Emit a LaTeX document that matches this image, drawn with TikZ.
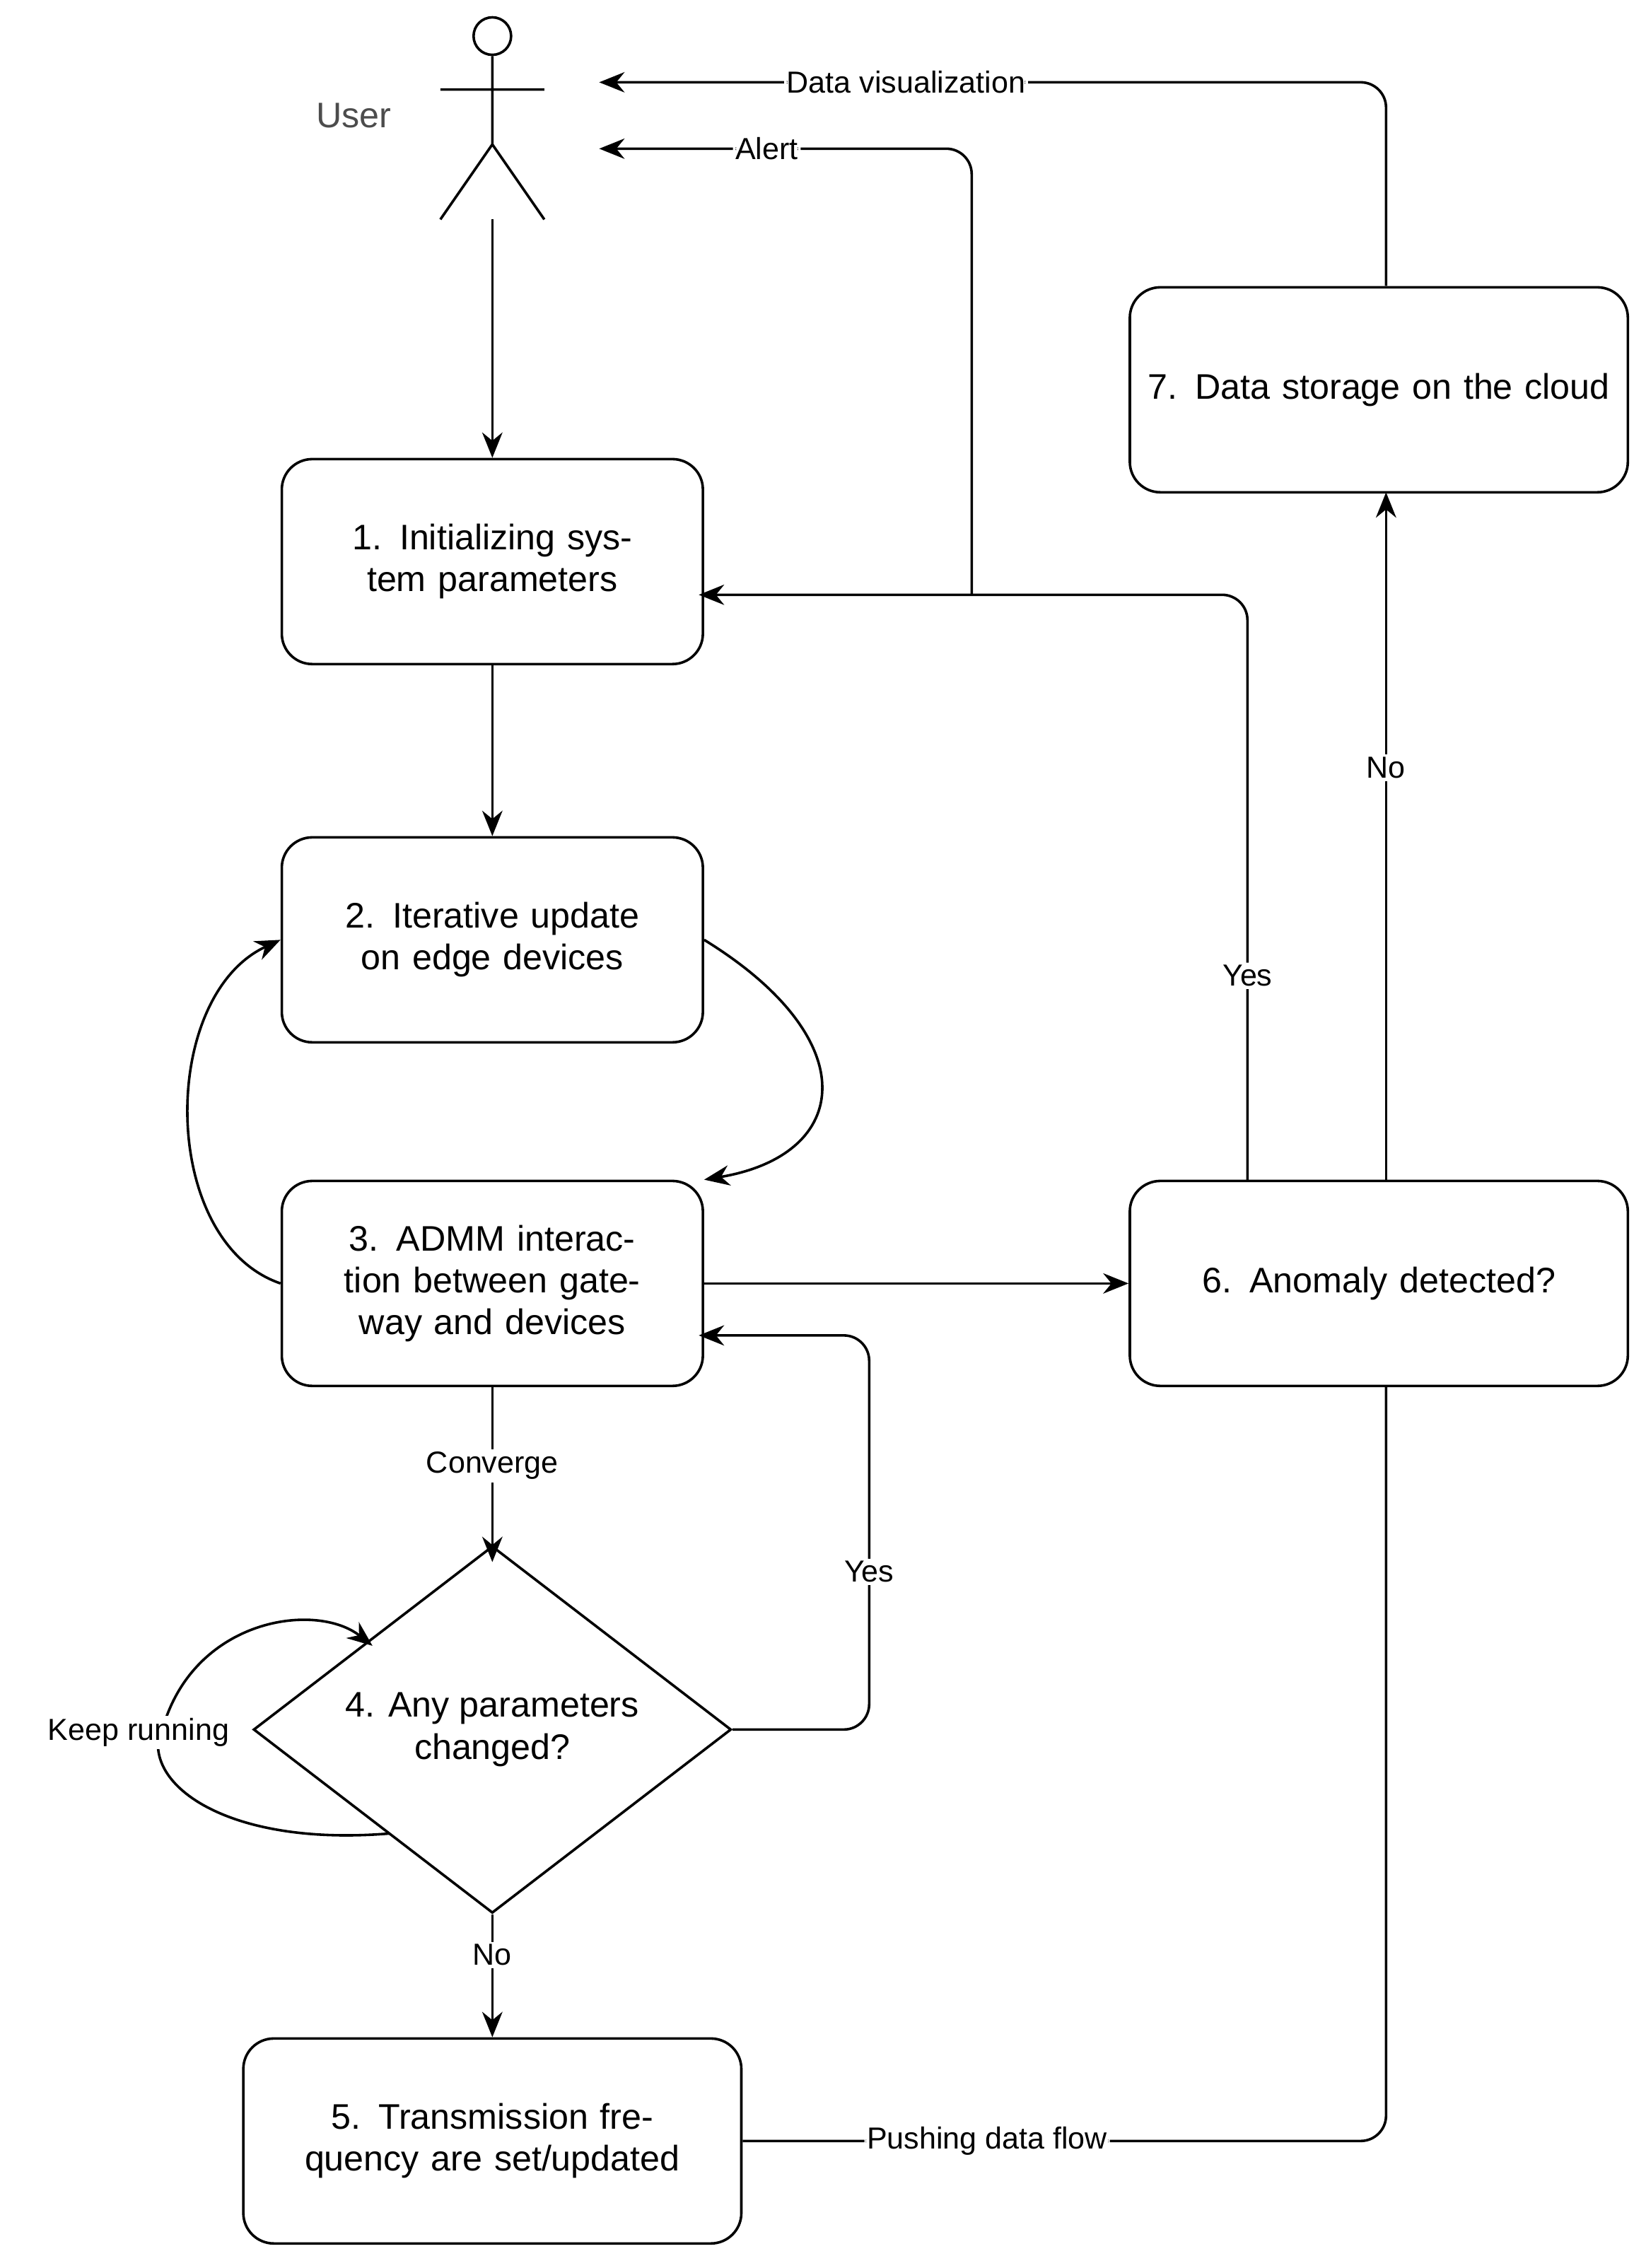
\documentclass[tikz,border=0pt]{standalone}
\usepackage{fontspec}
\setmainfont{Liberation Sans}
\usetikzlibrary{shapes.geometric,arrows.meta}
\begin{document}
\begin{tikzpicture}[x=0.02cm,y=-0.02cm,
  box/.style={draw,line width=1pt,rounded corners=12pt,minimum width=5.72cm,minimum height=2.84cm,align=center,text width=5.6cm,font=\fontsize{14}{16.5}\selectfont},
  box2/.style={box,minimum width=6.9cm,text width=6.6cm},
  arr/.style={-{Stealth[length=10pt,width=8pt]},line width=1pt},
  ln/.style={line width=1pt},
  lab/.style={fill=white,inner sep=1pt,font=\fontsize{12}{14}\selectfont}]
\useasboundingbox (0,0) rectangle (1140,1571);
% actor
\node[draw,circle,line width=1pt,minimum size=0.52cm,inner sep=0] (head) at (341,25) {};
\coordinate (hip) at (341,100);
\coordinate (la) at (305,62); \coordinate (ra) at (377,62);
\coordinate (ll) at (305,152); \coordinate (rl) at (377,152);
\coordinate (foot) at (341,152);
\draw[ln] (head.south) -- (hip) (la) -- (ra) (ll) -- (hip) -- (rl);
\node[font=\fontsize{14}{16}\selectfont,text=black!70] (user) at (245,80) {User};
% boxes
\node[box] (b1) at (341,389) {1. Initializing system parameters};
\node[box] (b2) at (341,651) {2. Iterative update on edge devices};
\node[box] (b3) at (341,889) {3. ADMM interaction between gateway and devices};
\node[box2] (b5) at (341,1483) {5. Transmission frequency are set/updated};
\node[box2] (b6) at (955,889) {6. Anomaly detected?};
\node[box2] (b7) at (955,270) {7. Data storage on the cloud};
\node[draw,diamond,line width=1pt,minimum width=6.62cm,minimum height=4.3cm,inner sep=0,align=center,font=\fontsize{14}{16.5}\selectfont] (d4) at (341,1198) {4. Any parameters\\changed?};
% edges
\draw[arr] (hip) ++(0,52) -- (b1.north);
\draw[arr] (b1) -- (b2);
\draw[arr] (b2.east) .. controls (600,720) and (590,800) .. (b3.north east);
\draw[arr] (b3.west) .. controls (110,860) and (110,690) .. (b2.west);
\draw[arr] (b3) -- node[lab,pos=0.45]{Converge} (341,1082);
\coordinate (y1) at (602,1198); \coordinate (y2) at (602,925);
\draw[arr,rounded corners=10pt] (d4.east) -- (y1) -- node[lab,pos=0.4]{Yes} (y2) -- (484,925);
\draw[arr] (d4.south) -- node[lab,pos=0.33]{No} (b5.north);
\coordinate (k1) at (270,1270); \coordinate (k2) at (258,1140);
\draw[arr] (k1) .. controls (150,1280) and (90,1230) .. (115,1190) .. controls (140,1120) and (220,1110) .. (k2);
\node[lab] (keep) at (96,1200) {Keep running};
\draw[arr] (b3.east) -- (b6.west);
\coordinate (p1) at (960,1483);
\draw[ln,rounded corners=10pt] (b5.east) -- node[lab,pos=0.38]{Pushing data flow} (p1) -- (b6.south -| p1);
\coordinate (n1) at (960,818); \coordinate (n2) at (960,341);
\draw[arr] (n1) -- node[lab,pos=0.6]{No} (n2);
\coordinate (ys1) at (864,818); \coordinate (ys2) at (864,412);
\draw[arr,rounded corners=10pt] (ys1) -- node[lab,pos=0.35]{Yes} (ys2) -- (484,412);
\coordinate (a1) at (673,412); \coordinate (a2) at (673,103); \coordinate (a3) at (415,103);
\draw[arr,rounded corners=10pt] (a1) -- (a2) -- node[lab,pos=0.55]{Alert} (a3);
\coordinate (v1) at (960,198); \coordinate (v2) at (960,57); \coordinate (v3) at (415,57);
\draw[arr,rounded corners=10pt] (v1) -- (v2) -- node[lab,pos=0.61]{Data visualization} (v3);
\end{tikzpicture}
\end{document}
